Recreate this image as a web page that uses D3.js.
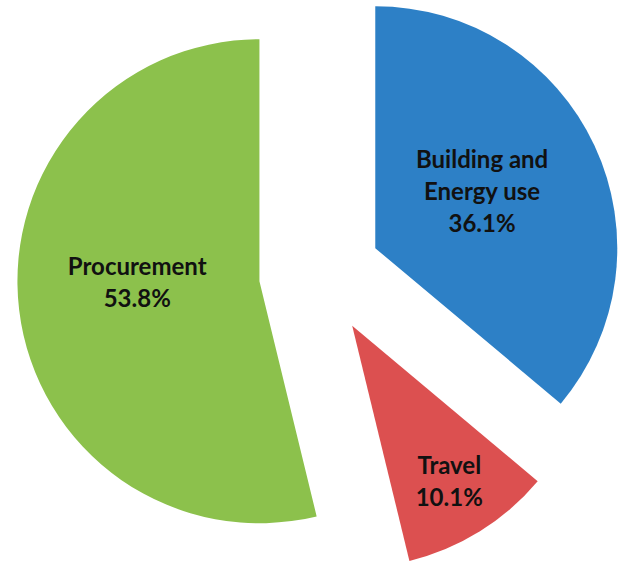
<!DOCTYPE html>
<html>
<head>
<meta charset="utf-8">
<script src="https://cdn.jsdelivr.net/npm/d3@7"></script>
<style>
  html, body { margin: 0; padding: 0; background: #fff; }
  svg { display: block; }
</style>
</head>
<body>
<div id="chart"></div>
<script>
// data
const categories = ['Building and Energy use', 'Travel', 'Procurement'];
const shares = [36.1, 10.1, 53.8];
const labelLines = [['Building and', 'Energy use', '36.1%'], ['Travel', '10.1%'], ['Procurement', '53.8%']];
const colors = ['#2d80c6', '#dc5050', '#8cc14c'];

const width = 618, height = 563;
const cx = 320, cy = 274;
const radius = 242;
const explode = 61;
// label placement: share of the radius, and a small turn (degrees) off the mid angle
const labelPos = [0.5, 0.76, 0.505];
const labelTurn = [-3, 0, 6];

const svg = d3.select('#chart').append('svg')
    .attr('width', width)
    .attr('height', height);

const pie = d3.pie().sort(null).value(d => d);
const arcs = pie(shares);
const arc = d3.arc().innerRadius(0).outerRadius(radius);

const g = svg.append('g').attr('transform', `translate(${cx},${cy})`);

const slices = g.selectAll('.slice')
    .data(arcs)
    .enter()
    .append('g')
    .attr('class', 'slice')
    .attr('transform', d => {
        const mid = (d.startAngle + d.endAngle) / 2;
        return `translate(${Math.sin(mid) * explode},${-Math.cos(mid) * explode})`;
    });

slices.append('path')
    .attr('d', arc)
    .attr('fill', (d, i) => colors[i]);

// labels
slices.each(function (d, i) {
    const mid = (d.startAngle + d.endAngle) / 2 + labelTurn[i] * Math.PI / 180;
    const r = radius * labelPos[i];
    const lx = Math.sin(mid) * r;
    const ly = -Math.cos(mid) * r;
    const lines = labelLines[i];
    const lh = 32;
    const t = d3.select(this).append('text')
        .attr('text-anchor', 'middle')
        .attr('font-family', 'Lato, "Open Sans", sans-serif')
        .attr('font-weight', 'bold')
        .attr('font-size', '24px')
        .attr('fill', '#111');
    lines.forEach((line, k) => {
        t.append('tspan')
            .attr('x', lx)
            .attr('y', ly + (k - (lines.length - 1) / 2) * lh)
            .attr('dy', '0.35em')
            .text(line);
    });
});
</script>
</body>
</html>
